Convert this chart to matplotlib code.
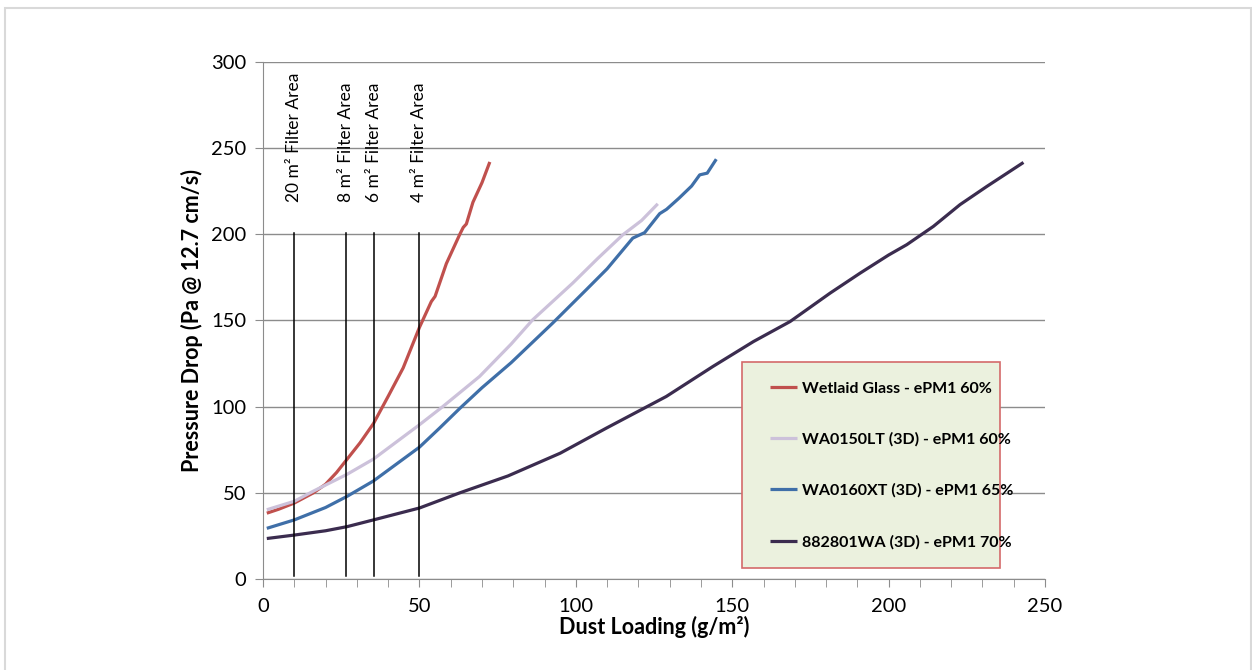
import matplotlib
matplotlib.use("Agg")
import matplotlib.pyplot as plt
from matplotlib.patches import Rectangle

# ---- data ----
wetlaid_x = [1.2, 5, 10, 16.1, 20, 23.5, 26.9, 31, 35.3, 40, 44.8, 50, 53.8, 55, 58.6, 62.9, 64, 65, 67.1, 70, 72.5]
wetlaid_y = [38.2, 40.5, 44.1, 50, 55, 61.8, 69.6, 79, 90.2, 106, 122.5, 146, 161, 164, 183, 200, 204, 206, 218.6, 230, 242]

lt_x = [1.2, 10, 16.1, 26.9, 35.3, 50, 57.5, 69.2, 79.3, 86.2, 99, 107, 115, 121, 126.2]
lt_y = [40.2, 45.1, 51, 60.8, 69.6, 89.5, 100.1, 117.5, 136.3, 150.4, 171.7, 186, 199.7, 208, 217.7]

xt_x = [1.2, 10, 20, 26.9, 35.3, 50, 56.4, 62.9, 70, 79.3, 92.6, 103.3, 110, 118.2, 122, 126.8, 129, 133, 137, 139.6, 142, 144.9]
xt_y = [29.4, 34.3, 41.5, 48, 56.9, 76.5, 87.5, 99, 111, 125.5, 148.5, 167.8, 180, 197.8, 201, 212, 214.5, 221, 228, 234.5, 235.5, 243.6]

wa_x = [1.2, 10, 20, 26.9, 35.3, 50, 62.9, 78.3, 95, 109.7, 128.9, 143.8, 156.8, 168.5, 181.3, 190.9, 200, 205.8, 214.3, 222.8, 231.4, 243.1]
wa_y = [23.5, 25.5, 28, 30.4, 34.3, 41.2, 50, 59.8, 73, 87.5, 105.9, 123.3, 137.8, 149.4, 165.9, 177.5, 188, 194, 204.6, 217.2, 227.8, 241.7]

series_labels = ["Wetlaid Glass - ePM1 60%", "WA0150LT (3D) - ePM1 60%",
                 "WA0160XT (3D) - ePM1 65%", "882801WA (3D) - ePM1 70%"]
series_colors = ["#C0504D", "#CCC1DA", "#3F6FA8", "#3B2C4F"]

area_x = [10, 26.6, 35.4, 50]
area_labels = ["20 m² Filter Area", "8 m² Filter Area", "6 m² Filter Area", "4 m² Filter Area"]
line_top = 201

x_ticks = [0, 50, 100, 150, 200, 250]
y_ticks = [0, 50, 100, 150, 200, 250, 300]

plt.rcParams['font.family'] = ['Lato', 'DejaVu Sans']

fig = plt.figure(figsize=(12.52, 6.7), dpi=100)
fig.patches.append(Rectangle((0.004, -0.02), 0.995, 1.008, transform=fig.transFigure,
                             facecolor='none', edgecolor='#D9D9D9', linewidth=1.5))
ax = fig.add_axes([0.2101, 0.1358, 0.6246, 0.7717])

data = [(wetlaid_x, wetlaid_y), (lt_x, lt_y), (xt_x, xt_y), (wa_x, wa_y)]
handles = []
for (xs, ys), lab, col in zip(data, series_labels, series_colors):
    h, = ax.plot(xs, ys, color=col, linewidth=2.3, label=lab, solid_capstyle='butt')
    handles.append(h)

for xv, lab in zip(area_x, area_labels):
    ax.plot([xv, xv], [1.5, line_top], color='black', linewidth=1.1)
    ax.text(xv, 219, lab, rotation=90, ha='center', va='bottom', fontsize=12.5,
            color='black')

ax.set_xlim(0, 250)
ax.set_ylim(0, 300)
ax.set_xticks(x_ticks)
ax.set_xticks(range(0, 251, 10), minor=True)
ax.set_yticks(y_ticks)
ax.yaxis.grid(True, color='#8C8C8C', linewidth=1.0)
ax.set_axisbelow(True)
for s in ['top', 'right']:
    ax.spines[s].set_visible(False)
for s in ['left', 'bottom']:
    ax.spines[s].set_color('#8C8C8C')
ax.tick_params(axis='both', which='both', color='#8C8C8C', labelsize=14.5, direction='out')
ax.tick_params(axis='x', which='both', length=6, pad=8)
ax.tick_params(axis='y', length=6, pad=6)
ax.set_xlabel("Dust Loading (g/m²)", fontsize=15.5, fontweight='bold', labelpad=0)
ax.set_ylabel("Pressure Drop (Pa @ 12.7 cm/s)", fontsize=15.5, fontweight='bold', labelpad=6)

# legend box
box = Rectangle((0.6125, 0.021), 0.33, 0.399, transform=ax.transAxes,
                facecolor='#EBF1DE', edgecolor='#D46A6A', linewidth=1.2, zorder=4)
ax.add_patch(box)
leg = ax.legend(handles=handles, loc='upper left', bbox_to_anchor=(0.63, 0.41),
                frameon=False, prop={'weight': 'bold', 'size': 11.5},
                labelspacing=2.3, handlelength=1.7, handletextpad=0.3)
leg.set_zorder(5)

fig.savefig("out.png", dpi=100)
